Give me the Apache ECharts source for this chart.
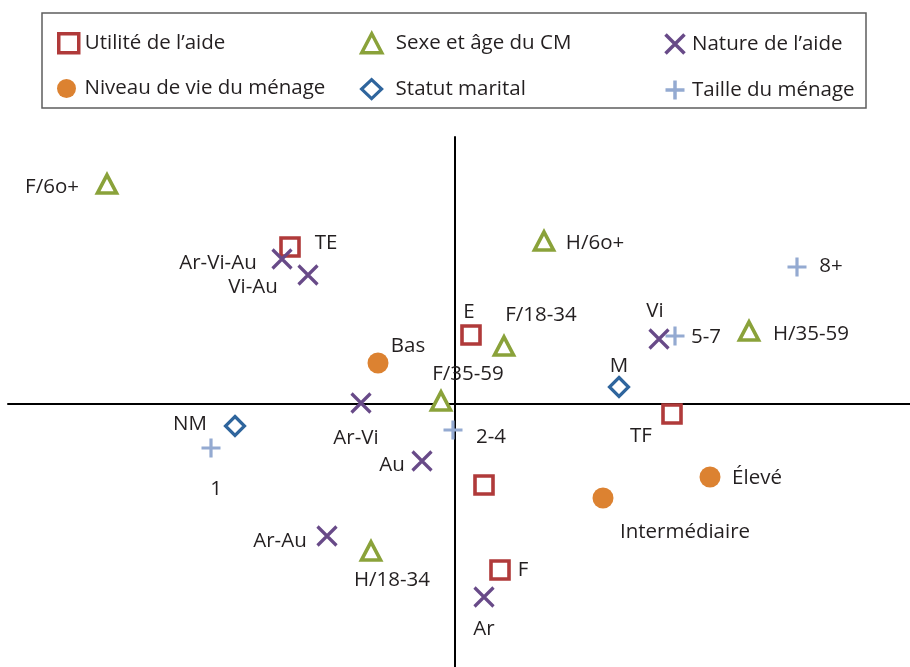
<!DOCTYPE html>
<html><head><meta charset="utf-8">
<script src="https://cdn.jsdelivr.net/npm/echarts@6/dist/echarts.min.js"></script>
<style>html,body{margin:0;padding:0;background:#fff}#c{width:910px;height:667px}</style>
</head><body><div id="c"></div>
<script>
// ---- data (coordinates on the two factorial axes) ----
const seriesNames = ["Utilité de l’aide","Sexe et âge du CM","Nature de l’aide","Niveau de vie du ménage","Statut marital","Taille du ménage"];
const utiliteNames = ["TE","E","TF","","F"];
const utiliteX = [-1.65, 0.16, 2.17, 0.29, 0.45];
const utiliteY = [1.57, 0.69, -0.10, -0.81, -1.66];
const sexeNames = ["F/6o+","H/6o+","F/18-34","F/35-59","H/35-59","H/18-34"];
const sexeX = [-3.48, 0.89, 0.49, -0.14, 2.94, -0.84];
const sexeY = [2.20, 1.63, 0.58, 0.03, 0.73, -1.47];
const natureNames = ["Ar-Vi-Au","Vi-Au","Vi","Ar-Vi","Au","Ar-Au","Ar"];
const natureX = [-1.73, -1.47, 2.04, -0.94, -0.33, -1.28, 0.29];
const natureY = [1.45, 1.29, 0.65, 0.01, -0.57, -1.32, -1.93];
const niveauNames = ["Bas","Élevé","Intermédiaire"];
const niveauX = [-0.77, 2.55, 1.48];
const niveauY = [0.41, -0.73, -0.94];
const statutNames = ["M","NM"];
const statutX = [1.64, -2.20];
const statutY = [0.17, -0.22];
const tailleNames = ["8+","5-7","2-4","1"];
const tailleX = [3.42, 2.20, -0.02, -2.44];
const tailleY = [1.37, 0.68, -0.26, -0.44];

// ---- label placement (pixel offsets of label centre from marker centre) ----
const labelOffsets = {
  "TE":[36,-4],"E":[-2,-23],"TF":[-31,22],"F":[23,0],
  "F/6o+":[-55,3],"H/6o+":[51,2],"F/18-34":[37,-31],"F/35-59":[27,-27],"H/35-59":[62,3],"H/18-34":[21,29],
  "Ar-Vi-Au":[-64,4],"Vi-Au":[-55,12],"Vi":[-4,-28],"Ar-Vi":[-5,35],"Au":[-30,4],"Ar-Au":[-47,5],"Ar":[0,32],
  "Bas":[30,-17],"Élevé":[47,1],"Intermédiaire":[82,34],
  "M":[0,-21],"NM":[-45,-2],
  "8+":[34,-1],"5-7":[31,1],"2-4":[38,7],"1":[5,41]
};

const FONT = "Open Sans";
const TEXT = "#231f20";
const colors = ["#b03a3a","#8aa23a","#684a88","#dc8231","#2f659d","#94aad1"];
const X_PATH = "path://M0,0L10,10M10,0L0,10";
const PLUS_PATH = "path://M5,0L5,10M0,5L10,5";

function mkData(names, xs, ys){
  return names.map((n,i)=>{
    const off = labelOffsets[n];
    return {
      name:n, value:[xs[i], ys[i]],
      label: off ? {show:true, position:'inside', offset:off} : {show:false}
    };
  });
}

const styles = [
  {symbol:'rect', symbolSize:18, itemStyle:{color:'#fff', borderColor:colors[0], borderWidth:3.6, opacity:1}},
  {symbol:'triangle', symbolSize:[19,18], itemStyle:{color:'#fff', borderColor:colors[1], borderWidth:3.6, opacity:1}},
  {symbol:X_PATH, symbolSize:19, itemStyle:{color:'none', borderColor:colors[2], borderWidth:3.2, opacity:1}},
  {symbol:'circle', symbolSize:21, itemStyle:{color:colors[3], borderWidth:0, opacity:1}},
  {symbol:'diamond', symbolSize:19, itemStyle:{color:'#fff', borderColor:colors[4], borderWidth:3.2, opacity:1}},
  {symbol:PLUS_PATH, symbolSize:19, itemStyle:{color:'none', borderColor:colors[5], borderWidth:3.2, opacity:1}}
];
const dataSets = [
  mkData(utiliteNames, utiliteX, utiliteY),
  mkData(sexeNames, sexeX, sexeY),
  mkData(natureNames, natureX, natureY),
  mkData(niveauNames, niveauX, niveauY),
  mkData(statutNames, statutX, statutY),
  mkData(tailleNames, tailleX, tailleY)
];

const series = seriesNames.map((n,i)=>Object.assign({
  name:n, type:'scatter', data:dataSets[i], z:3,
  label:{show:true, formatter:'{b}', color:TEXT, fontFamily:FONT, fontSize:20.5, align:'center', verticalAlign:'middle'},
  emphasis:{disabled:true}, animation:false
}, styles[i]));

const legendPos = [[57,32,1],[360,32,9],[663,32,2],[57,78,3],[360,78,9],[663,78,2]];
const legendIcons = ['rect','triangle',X_PATH,'circle','diamond',PLUS_PATH];
const legendBW = [3.5,3.5,3.5,0,3.2,3.5];
const legends = seriesNames.map((n,i)=>({
  data:[{name:n, icon:legendIcons[i]}], left:legendPos[i][0], top:legendPos[i][1],
  itemWidth:20, itemHeight:19, itemGap:0, padding:0, selectedMode:false,
  itemStyle:{borderWidth:legendBW[i], opacity:1},
  textStyle:{fontFamily:FONT, fontSize:20.5, color:TEXT, padding:[0,0,0,legendPos[i][2]]}
}));

const chart = echarts.init(document.getElementById('c'), null, {renderer:'canvas'});
chart.setOption({
  animation:false,
  backgroundColor:'#fff',
  textStyle:{fontFamily:FONT},
  graphic:[{type:'rect', shape:{x:42,y:13,width:824,height:95}, style:{fill:'none', stroke:'#5e5e5e', lineWidth:1.5}, z:1}],
  legend:legends,
  grid:{left:8, right:0, top:137, bottom:0, containLabel:false},
  xAxis:{type:'value', min:-4.47, max:4.55, axisLine:{onZero:true, lineStyle:{color:'#000', width:2}}, axisTick:{show:false}, axisLabel:{show:false}, splitLine:{show:false}},
  yAxis:{type:'value', min:-2.63, max:2.67, axisLine:{onZero:true, lineStyle:{color:'#000', width:2}}, axisTick:{show:false}, axisLabel:{show:false}, splitLine:{show:false}},
  series:series
});
</script></body></html>
